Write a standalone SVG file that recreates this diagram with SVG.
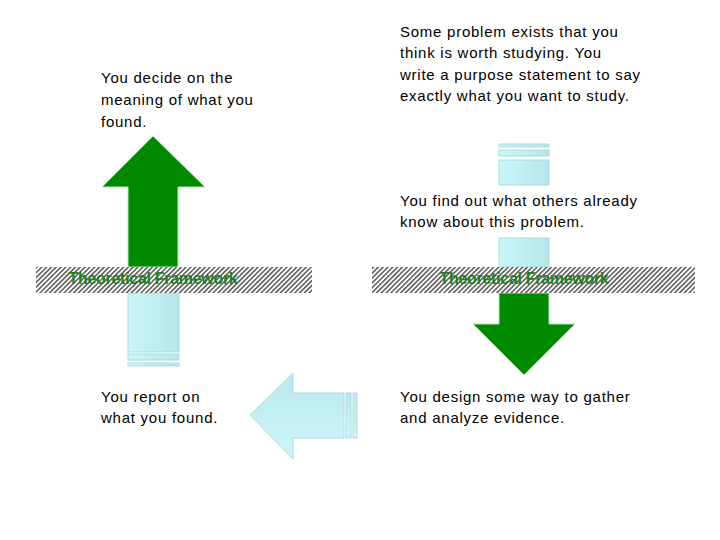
<svg xmlns="http://www.w3.org/2000/svg" width="720" height="540" viewBox="0 0 720 540">
<defs>
<linearGradient id="cy" x1="0" y1="0" x2="1" y2="0">
<stop offset="0" stop-color="#cbf6f8"/>
<stop offset="1" stop-color="#b6e6eb"/>
</linearGradient>
<linearGradient id="cyv" x1="0" y1="0" x2="0" y2="1">
<stop offset="0" stop-color="#b9e8ed"/>
<stop offset="1" stop-color="#cdf7f9"/>
</linearGradient>
<pattern id="hatch" width="3.4" height="3.4" patternUnits="userSpaceOnUse" patternTransform="rotate(45)">
<rect width="3.4" height="3.4" fill="#ffffff"/>
<line x1="0.8" y1="0" x2="0.8" y2="3.4" stroke="#000" stroke-width="1"/>
</pattern>
</defs>
<style>
.t{font-family:"Liberation Sans",Arial,sans-serif;font-size:15px;letter-spacing:0.75px;fill:#000}
.band{fill:url(#hatch)}
.bt{font-family:"Liberation Sans",Arial,sans-serif;font-size:16px;font-weight:bold;letter-spacing:-0.3px;fill:#1f801f}
.g{fill:#008a00;stroke:#b8e6b8;stroke-width:1}
.c{fill:url(#cy);stroke:#a9dbe1;stroke-width:1}
</style>
<rect width="720" height="540" fill="#ffffff"/>

<g id="connectors">
<polygon id="up-arrow" class="g" points="153,136 205,187 178,187 178,267 128,267 128,187 102,187"/>
<g id="up-tail">
<rect class="c" x="128" y="293" width="51" height="59"/>
<rect class="c" x="128" y="354" width="51" height="6"/>
<rect class="c" x="128" y="363" width="51" height="3"/>
</g>
<g id="right-tail">
<rect class="c" x="499" y="144" width="50" height="3"/>
<rect class="c" x="499" y="150" width="50" height="6"/>
<rect class="c" x="499" y="160" width="50" height="25"/>
<rect class="c" x="499" y="238" width="50" height="29"/>
</g>
<polygon id="down-arrow" class="g" points="499,293 549,293 549,324 575,324 524,375 473,324 499,324"/>
<g id="left-arrow">
<polygon points="250,415 293,373 293,393 344,393 344,438 293,438 293,459" fill="url(#cyv)" stroke="#a9dbe1" stroke-width="1"/>
<rect x="346" y="393" width="5" height="45" fill="url(#cyv)" stroke="#a9dbe1" stroke-width="1"/>
<rect x="353" y="393" width="4" height="45" fill="url(#cyv)" stroke="#a9dbe1" stroke-width="1"/>
</g>
</g>

<g id="band-left">
<rect class="band" x="36" y="267" width="276" height="26"/>
<text class="bt" x="153" y="284" text-anchor="middle">Theoretical Framework</text>
</g>
<g id="band-right">
<rect class="band" x="372" y="267" width="323" height="26"/>
<text class="bt" x="524" y="284" text-anchor="middle">Theoretical Framework</text>
</g>

<g id="node-interpret">
<text class="t" x="101" y="83">You decide on the</text>
<text class="t" x="101" y="105">meaning of what you</text>
<text class="t" x="101" y="127">found.</text>
</g>
<g id="node-problem">
<text class="t" x="400" y="37">Some problem exists that you</text>
<text class="t" x="400" y="58">think is worth studying. You</text>
<text class="t" x="400" y="80">write a purpose statement to say</text>
<text class="t" x="400" y="101">exactly what you want to study.</text>
</g>
<g id="node-literature">
<text class="t" x="400" y="206">You find out what others already</text>
<text class="t" x="400" y="227">know about this problem.</text>
</g>
<g id="node-report">
<text class="t" x="101" y="402">You report on</text>
<text class="t" x="101" y="423">what you found.</text>
</g>
<g id="node-design">
<text class="t" x="400" y="402">You design some way to gather</text>
<text class="t" x="400" y="423">and analyze evidence.</text>
</g>
</svg>
